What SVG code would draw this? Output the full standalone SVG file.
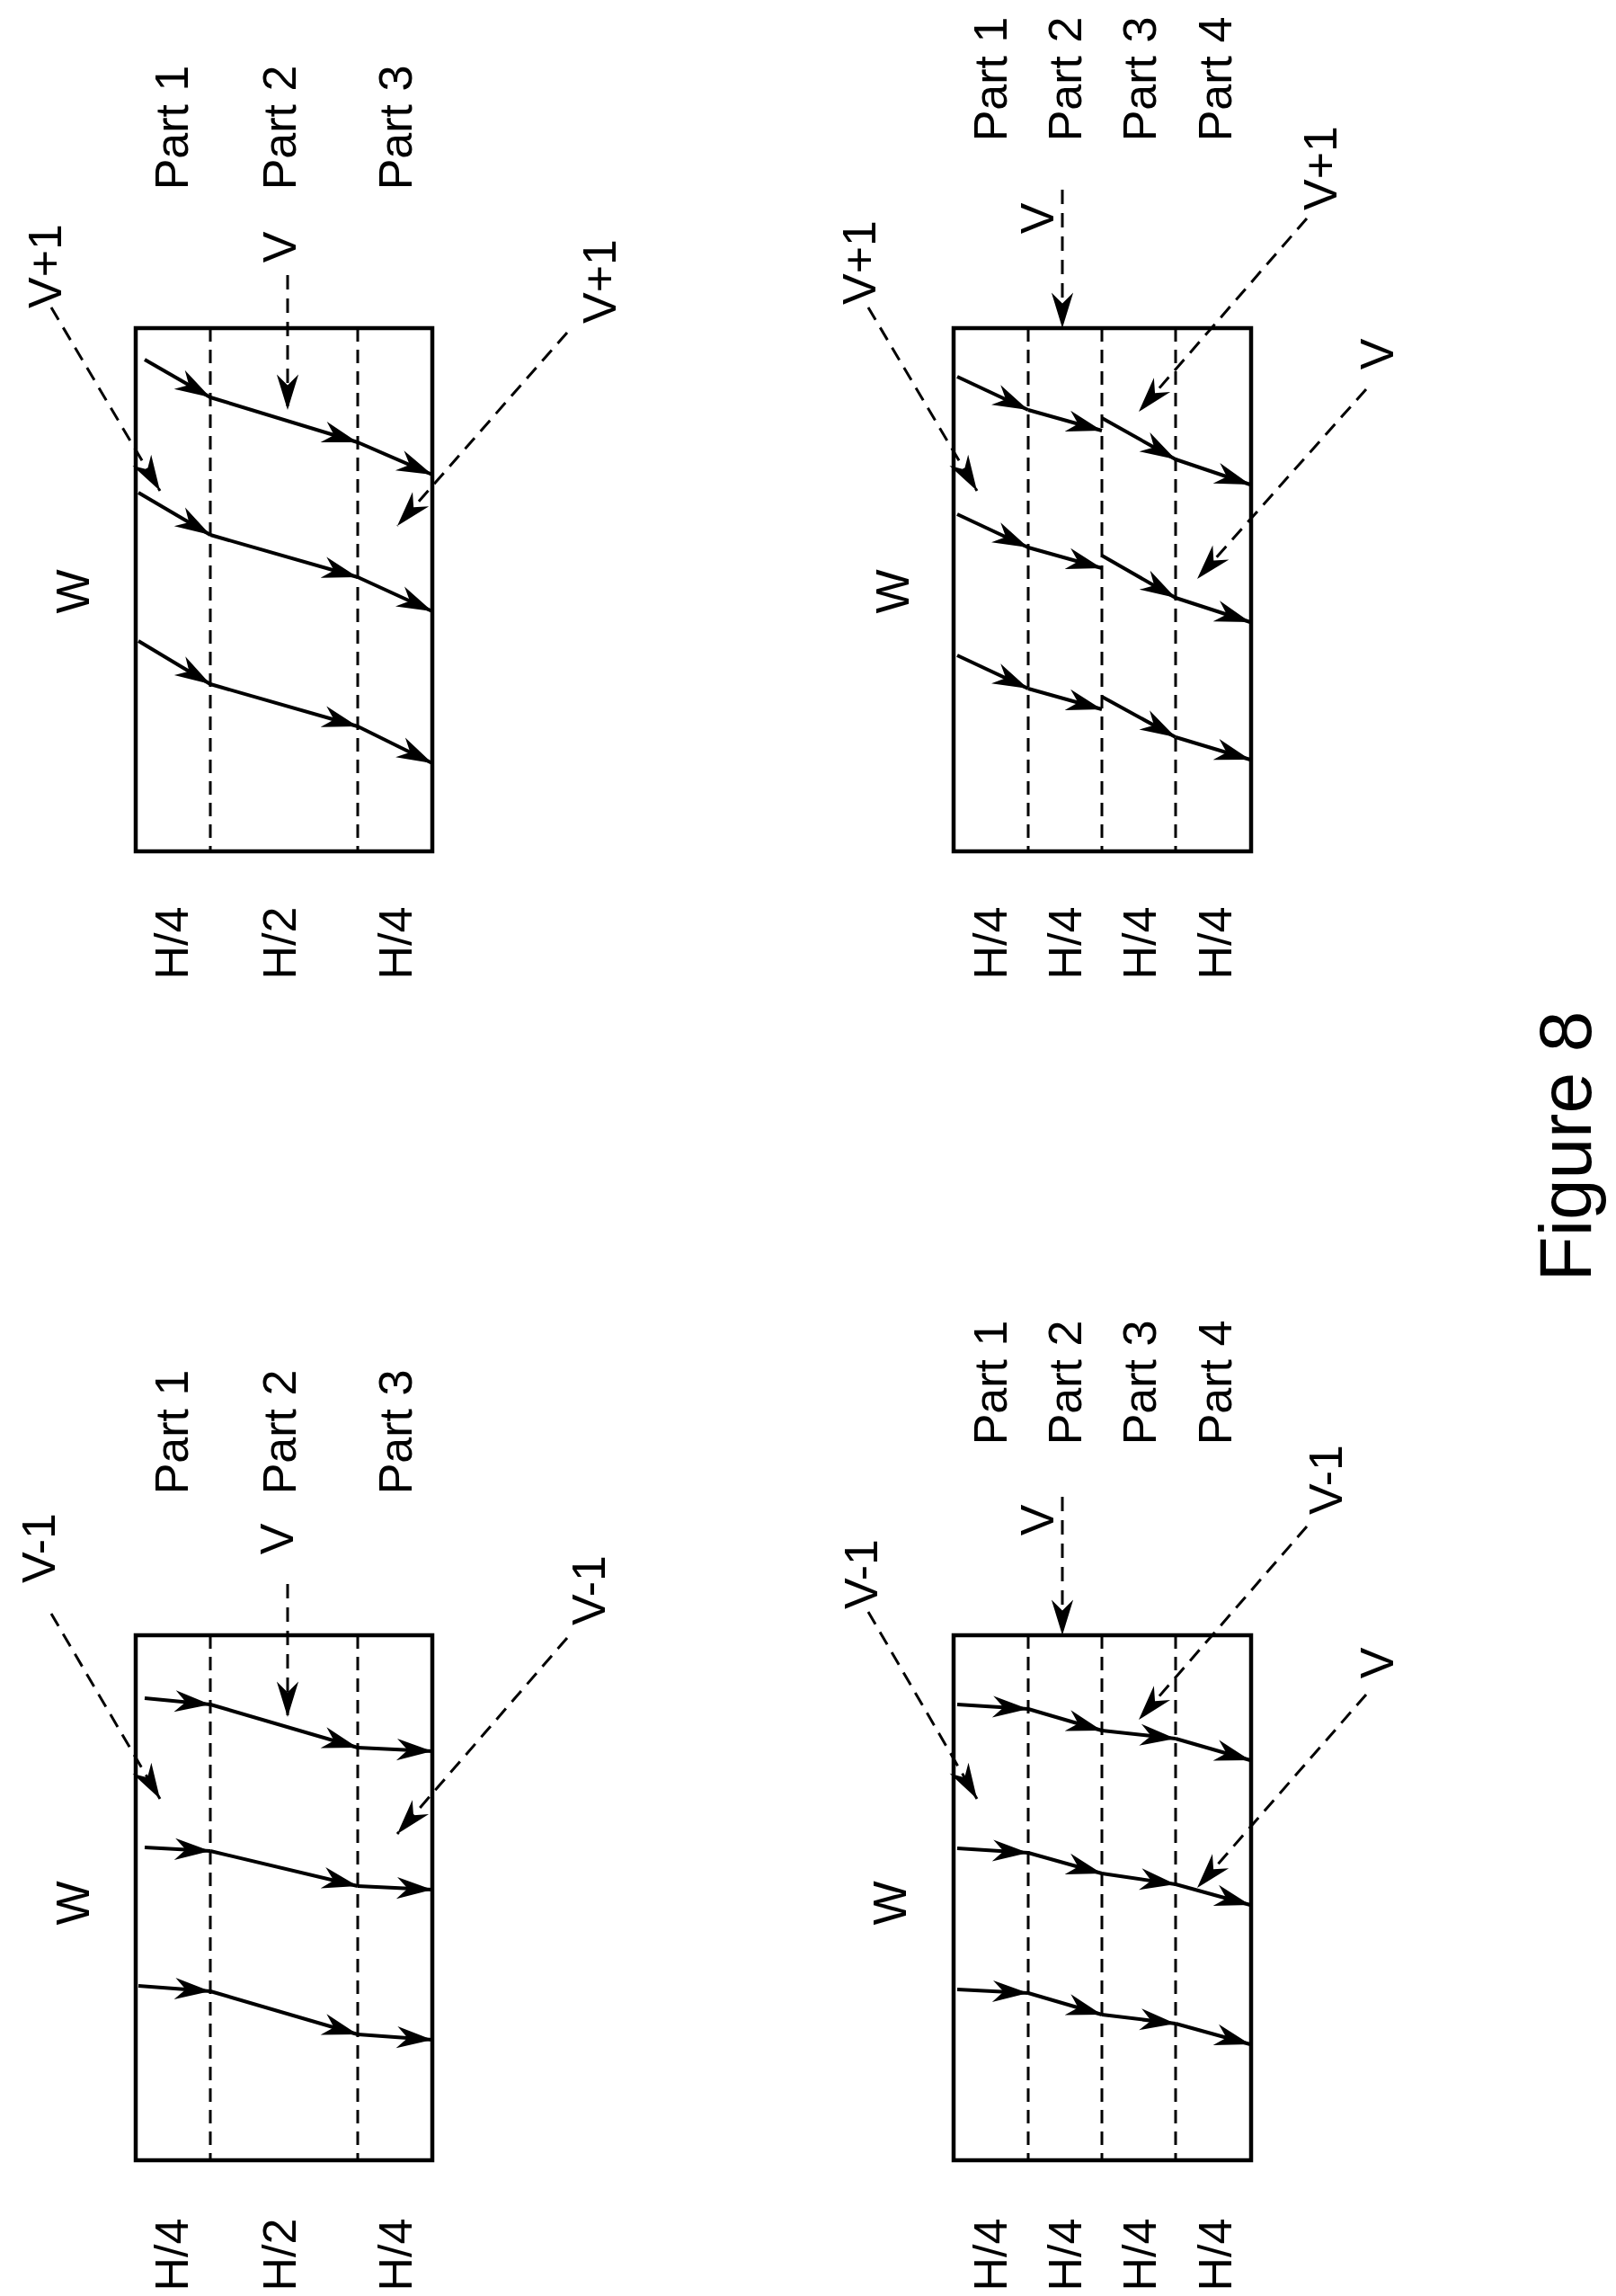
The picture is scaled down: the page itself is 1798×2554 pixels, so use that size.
<svg xmlns="http://www.w3.org/2000/svg" width="1798" height="2554" viewBox="0 0 1798 2554">
<style>
text{font-family:"Liberation Sans",Arial,sans-serif;font-size:52px;fill:#000;text-anchor:middle}
.box{fill:none;stroke:#000;stroke-width:4.5}
.div{stroke:#000;stroke-width:3;stroke-dasharray:15,9}
.s{stroke:#000;stroke-width:4;fill:none;marker-end:url(#ah)}
.d{stroke:#000;stroke-width:3;stroke-dasharray:16,10;fill:none;marker-end:url(#ah)}
</style>
<defs>
<marker id="ah" markerUnits="userSpaceOnUse" markerWidth="44" markerHeight="34" viewBox="-38 -14 40 28" refX="0" refY="0" orient="auto">
<path d="M0,0 L-36,-11 L-25,0 L-36,11 Z" fill="#000"/>
</marker>
</defs>
<rect width="1798" height="2554" fill="#fff"/>

<g id="panel-a">
<rect class="box" x="151" y="365" width="330" height="582"/>
<line class="div" x1="234" y1="365" x2="234" y2="947"/>
<line class="div" x1="398" y1="365" x2="398" y2="947"/>
<g transform="translate(190,142) rotate(-90)"><text dy="0.36em">Part 1</text></g>
<g transform="translate(310,142) rotate(-90)"><text dy="0.36em">Part 2</text></g>
<g transform="translate(439,142) rotate(-90)"><text dy="0.36em">Part 3</text></g>
<g transform="translate(190,1049) rotate(-90)"><text dy="0.36em">H/4</text></g>
<g transform="translate(310,1049) rotate(-90)"><text dy="0.36em">H/2</text></g>
<g transform="translate(439,1049) rotate(-90)"><text dy="0.36em">H/4</text></g>
<g transform="translate(80,658) rotate(-90)"><text dy="0.36em">W</text></g>
<g transform="translate(49,296) rotate(-90)"><text dy="0.36em">V+1</text></g>
<g transform="translate(310,275) rotate(-90)"><text dy="0.36em">V</text></g>
<g transform="translate(666,313) rotate(-90)"><text dy="0.36em">V+1</text></g>
</g>

<g id="panel-b">
<rect class="box" x="1061" y="365" width="331" height="582"/>
<line class="div" x1="1144" y1="365" x2="1144" y2="947"/>
<line class="div" x1="1226" y1="365" x2="1226" y2="947"/>
<line class="div" x1="1308" y1="365" x2="1308" y2="947"/>
<g transform="translate(1101,88) rotate(-90)"><text dy="0.36em">Part 1</text></g>
<g transform="translate(1184,88) rotate(-90)"><text dy="0.36em">Part 2</text></g>
<g transform="translate(1267,88) rotate(-90)"><text dy="0.36em">Part 3</text></g>
<g transform="translate(1351,88) rotate(-90)"><text dy="0.36em">Part 4</text></g>
<g transform="translate(1101,1049) rotate(-90)"><text dy="0.36em">H/4</text></g>
<g transform="translate(1184,1049) rotate(-90)"><text dy="0.36em">H/4</text></g>
<g transform="translate(1267,1049) rotate(-90)"><text dy="0.36em">H/4</text></g>
<g transform="translate(1351,1049) rotate(-90)"><text dy="0.36em">H/4</text></g>
<g transform="translate(992,658) rotate(-90)"><text dy="0.36em">W</text></g>
<g transform="translate(955,292) rotate(-90)"><text dy="0.36em">V+1</text></g>
<g transform="translate(1153,243) rotate(-90)"><text dy="0.36em">V</text></g>
<g transform="translate(1468,187) rotate(-90)"><text dy="0.36em">V+1</text></g>
<g transform="translate(1531,394) rotate(-90)"><text dy="0.36em">V</text></g>
</g>

<g id="panel-c">
<rect class="box" x="151" y="1819" width="330" height="584"/>
<line class="div" x1="234" y1="1819" x2="234" y2="2403"/>
<line class="div" x1="398" y1="1819" x2="398" y2="2403"/>
<g transform="translate(190,1593) rotate(-90)"><text dy="0.36em">Part 1</text></g>
<g transform="translate(310,1593) rotate(-90)"><text dy="0.36em">Part 2</text></g>
<g transform="translate(439,1593) rotate(-90)"><text dy="0.36em">Part 3</text></g>
<g transform="translate(190,2508) rotate(-90)"><text dy="0.36em">H/4</text></g>
<g transform="translate(310,2508) rotate(-90)"><text dy="0.36em">H/2</text></g>
<g transform="translate(439,2508) rotate(-90)"><text dy="0.36em">H/4</text></g>
<g transform="translate(80,2117) rotate(-90)"><text dy="0.36em">W</text></g>
<g transform="translate(42,1722) rotate(-90)"><text dy="0.36em">V-1</text></g>
<g transform="translate(307,1712) rotate(-90)"><text dy="0.36em">V</text></g>
<g transform="translate(654,1769) rotate(-90)"><text dy="0.36em">V-1</text></g>
</g>

<g id="panel-d">
<rect class="box" x="1061" y="1819" width="331" height="584"/>
<line class="div" x1="1144" y1="1819" x2="1144" y2="2403"/>
<line class="div" x1="1226" y1="1819" x2="1226" y2="2403"/>
<line class="div" x1="1308" y1="1819" x2="1308" y2="2403"/>
<g transform="translate(1101,1538) rotate(-90)"><text dy="0.36em">Part 1</text></g>
<g transform="translate(1184,1538) rotate(-90)"><text dy="0.36em">Part 2</text></g>
<g transform="translate(1267,1538) rotate(-90)"><text dy="0.36em">Part 3</text></g>
<g transform="translate(1351,1538) rotate(-90)"><text dy="0.36em">Part 4</text></g>
<g transform="translate(1101,2508) rotate(-90)"><text dy="0.36em">H/4</text></g>
<g transform="translate(1184,2508) rotate(-90)"><text dy="0.36em">H/4</text></g>
<g transform="translate(1267,2508) rotate(-90)"><text dy="0.36em">H/4</text></g>
<g transform="translate(1351,2508) rotate(-90)"><text dy="0.36em">H/4</text></g>
<g transform="translate(989,2117) rotate(-90)"><text dy="0.36em">W</text></g>
<g transform="translate(957,1751) rotate(-90)"><text dy="0.36em">V-1</text></g>
<g transform="translate(1153,1691) rotate(-90)"><text dy="0.36em">V</text></g>
<g transform="translate(1474,1646) rotate(-90)"><text dy="0.36em">V-1</text></g>
<g transform="translate(1531,1850) rotate(-90)"><text dy="0.36em">V</text></g>
</g>

<g id="title">
<g transform="translate(1740,1275) rotate(-90)"><text dy="0.36em" style="font-size:82px">Figure 8</text></g>
</g>

<g id="connectors">
<line class="s" x1="161" y1="400" x2="234" y2="442"/><line class="s" x1="234" y1="442" x2="398" y2="492"/><line class="s" x1="398" y1="492" x2="481" y2="528"/>
<line class="s" x1="154" y1="548" x2="234" y2="595"/><line class="s" x1="234" y1="595" x2="398" y2="642"/><line class="s" x1="398" y1="642" x2="481" y2="680"/>
<line class="s" x1="154" y1="713" x2="234" y2="761"/><line class="s" x1="234" y1="761" x2="398" y2="808"/><line class="s" x1="398" y1="808" x2="481" y2="849"/>
<line class="d" x1="57" y1="342" x2="178" y2="546"/>
<line class="d" x1="320" y1="306" x2="320" y2="456"/>
<line class="d" x1="631" y1="370" x2="442" y2="585"/>
<line class="s" x1="1065" y1="419" x2="1144" y2="456"/><line class="s" x1="1144" y1="456" x2="1226" y2="479"/><line class="s" x1="1226" y1="465" x2="1308" y2="511"/><line class="s" x1="1308" y1="511" x2="1391" y2="539"/>
<line class="s" x1="1065" y1="572" x2="1144" y2="609"/><line class="s" x1="1144" y1="609" x2="1226" y2="632"/><line class="s" x1="1226" y1="618" x2="1308" y2="665"/><line class="s" x1="1308" y1="665" x2="1391" y2="692"/>
<line class="s" x1="1065" y1="729" x2="1144" y2="766"/><line class="s" x1="1144" y1="766" x2="1226" y2="789"/><line class="s" x1="1226" y1="775" x2="1308" y2="820"/><line class="s" x1="1308" y1="820" x2="1391" y2="845"/>
<line class="d" x1="966" y1="342" x2="1087" y2="546"/>
<line class="d" x1="1182" y1="211" x2="1182" y2="365"/>
<line class="d" x1="1454" y1="243" x2="1267" y2="458"/>
<line class="d" x1="1520" y1="433" x2="1332" y2="644"/>
<line class="s" x1="161" y1="1889" x2="234" y2="1896"/><line class="s" x1="234" y1="1896" x2="398" y2="1944"/><line class="s" x1="398" y1="1944" x2="481" y2="1948"/>
<line class="s" x1="161" y1="2055" x2="234" y2="2059"/><line class="s" x1="234" y1="2059" x2="398" y2="2098"/><line class="s" x1="398" y1="2098" x2="481" y2="2102"/>
<line class="s" x1="154" y1="2209" x2="234" y2="2215"/><line class="s" x1="234" y1="2215" x2="398" y2="2263"/><line class="s" x1="398" y1="2263" x2="481" y2="2269"/>
<line class="d" x1="57" y1="1795" x2="178" y2="2001"/>
<line class="d" x1="320" y1="1762" x2="320" y2="1910"/>
<line class="d" x1="631" y1="1822" x2="442" y2="2040"/>
<line class="s" x1="1065" y1="1896" x2="1144" y2="1901"/><line class="s" x1="1144" y1="1901" x2="1226" y2="1925"/><line class="s" x1="1226" y1="1925" x2="1308" y2="1934"/><line class="s" x1="1308" y1="1934" x2="1391" y2="1958"/>
<line class="s" x1="1065" y1="2056" x2="1144" y2="2061"/><line class="s" x1="1144" y1="2061" x2="1226" y2="2084"/><line class="s" x1="1226" y1="2084" x2="1308" y2="2096"/><line class="s" x1="1308" y1="2096" x2="1391" y2="2119"/>
<line class="s" x1="1065" y1="2213" x2="1144" y2="2217"/><line class="s" x1="1144" y1="2217" x2="1226" y2="2241"/><line class="s" x1="1226" y1="2241" x2="1308" y2="2251"/><line class="s" x1="1308" y1="2251" x2="1391" y2="2274"/>
<line class="d" x1="966" y1="1793" x2="1087" y2="2001"/>
<line class="d" x1="1182" y1="1665" x2="1182" y2="1819"/>
<line class="d" x1="1454" y1="1698" x2="1267" y2="1913"/>
<line class="d" x1="1520" y1="1885" x2="1332" y2="2100"/>
</g>
</svg>
